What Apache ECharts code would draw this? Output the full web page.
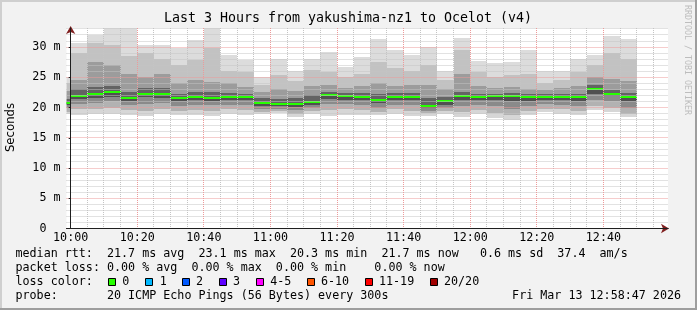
<!DOCTYPE html>
<html><head><meta charset="utf-8">
<script src="https://cdn.jsdelivr.net/npm/echarts@6/dist/echarts.min.js"></script>
<style>html,body{margin:0;padding:0;background:#f2f2f2;}#c{width:697px;height:310px;}</style>
</head><body><div id="c"></div>
<script>
// ---- data (values in ms) ----
const binStarts = ['09:55','10:00','10:05','10:10','10:15','10:20','10:25','10:30','10:35','10:40','10:45','10:50','10:55','11:00','11:05','11:10','11:15','11:20','11:25','11:30','11:35','11:40','11:45','11:50','11:55','12:00','12:05','12:10','12:15','12:20','12:25','12:30','12:35','12:40','12:45'];
const pingMax = [25.0,30.7,32.0,34.5,34.5,30.3,30.3,29.9,31.1,34.2,28.7,27.9,25.0,28.1,26.1,28.1,29.2,26.7,28.3,31.3,29.5,28.7,30.0,26.0,31.5,27.7,27.4,27.5,29.5,26.0,26.0,28.0,28.7,31.8,31.3];
const ping18 = [24.0,29.0,30.6,30.3,28.5,29.0,28.0,27.0,27.8,29.8,26.0,25.8,23.8,25.4,24.4,26.2,25.9,25.0,25.5,27.5,26.5,26.0,27.0,24.6,29.5,25.8,25.0,25.3,25.5,24.0,24.5,25.8,27.0,29.0,28.0];
const ping15 = [22.8,24.5,27.6,27.0,25.6,25.0,25.5,24.0,24.6,24.3,24.0,23.4,22.6,23.0,22.8,23.6,23.8,23.3,23.6,24.0,23.6,23.8,23.8,23.0,25.5,23.6,23.2,23.4,23.0,22.9,23.2,23.5,25.0,24.8,24.4];
const ping12 = [21.4,23.0,23.4,23.6,22.6,23.3,23.3,22.3,22.6,22.5,22.4,22.3,21.5,21.4,21.5,22.0,22.6,22.4,22.4,22.2,22.4,22.4,21.5,21.8,22.6,22.3,22.3,22.4,22.2,22.2,22.3,22.3,23.7,22.9,22.4];
const median = [20.8,21.9,22.2,22.5,21.6,22.2,22.2,21.5,21.8,21.6,21.7,21.7,20.7,20.6,20.6,20.9,22.0,21.9,21.8,21.2,21.8,21.8,20.3,21.0,21.95,21.7,21.9,21.9,21.8,21.8,21.8,21.8,23.1,22.3,21.8];
const ping9 = [20.4,21.4,21.6,21.8,21.1,21.7,21.5,21.0,21.3,21.1,21.2,21.2,20.3,20.2,20.1,20.4,21.4,21.3,21.3,20.7,21.3,21.2,19.9,20.5,21.3,21.2,21.3,21.0,21.0,21.3,21.3,21.0,22.3,21.9,21.0];
const ping6 = [19.9,20.6,20.8,21.0,20.4,20.6,20.7,20.3,20.5,20.4,20.5,20.4,19.8,19.8,19.6,19.9,20.6,20.6,20.5,20.0,20.5,20.4,19.5,20.0,20.3,20.4,20.2,19.8,20.2,20.6,20.5,20.2,21.3,21.0,20.0];
const ping3 = [19.3,19.7,19.8,20.0,19.6,19.5,19.8,19.5,19.6,19.5,19.7,19.6,19.3,19.4,19.0,19.4,19.6,19.7,19.6,19.3,19.7,19.5,19.1,19.5,19.2,19.6,19.1,18.8,19.4,19.8,19.7,19.5,20.3,20.0,19.0];
const pingMin = [18.9,18.8,18.9,19.0,18.8,18.6,18.9,18.7,18.8,18.6,18.9,18.8,18.9,19.1,18.5,19.0,18.6,18.8,18.8,18.8,18.9,18.6,18.6,19.0,18.4,18.9,18.3,18.0,18.7,19.2,19.0,18.8,19.6,19.3,18.5];

const titleText = 'Last 3 Hours from yakushima-nz1 to Ocelot (v4)';
const legendLines = [
  'median rtt:  21.7 ms avg  23.1 ms max  20.3 ms min  21.7 ms now   0.6 ms sd  37.4  am/s',
  'packet loss: 0.00 % avg  0.00 % max  0.00 % min    0.00 % now',
  'loss color:',
  'probe:       20 ICMP Echo Pings (56 Bytes) every 300s'
];
const lossLabels = ['0','1','2','3','4-5','6-10','11-19','20/20'];
const lossColors = ['#26ff00','#00b8ff','#0059ff','#5e00ff','#ff00ff','#ff5500','#ff0000','#a10000'];
const dateText = 'Fri Mar 13 12:58:47 2026';

// ---- helpers ----
const BIN = 5;
const MONO = 'DejaVu Sans Mono';
const FS = 11.7;
const XMIN = -1.25, XMAX = 179.4, YMAX = 33.15;
function toMin(s){ const p = s.split(':').map(Number); return p[0]*60 + p[1] - 600; }
function fmtTime(v){ const t = Math.round(600 + v); const h = Math.floor(t/60), m = t % 60; return (h<10?'0':'')+h+':'+(m<10?'0':'')+m; }
const starts = binStarts.map(toMin);

// grid line positions (axis units)
const xMinorGrid = [], xMajorGrid = [], yMinorGrid = [], yMajorGrid = [];
for (let m = 0; m < XMAX; m += 5) (m % 20 === 0 ? xMajorGrid : xMinorGrid).push(m);
for (let v = 1; v < YMAX; v += 1) (v % 5 === 0 ? yMajorGrid : yMinorGrid).push(v);

function clipTo(cs){ return {x:cs.x, y:cs.y, width:cs.width, height:cs.height}; }

function band(lo, hi, color){
  return {
    type:'custom', xAxisIndex:0, yAxisIndex:0, z:1, silent:true, animation:false,
    data: starts.map((t,i)=>[t, lo[i], hi[i]]),
    encode:{x:0, y:[1,2]},
    renderItem(params, api){
      const t = api.value(0), a = api.value(1), b = api.value(2);
      const p0 = api.coord([t, b]), p1 = api.coord([t + BIN, a]);
      const x0 = Math.round(p0[0]), x1 = Math.round(p1[0]);
      const y0 = Math.round(p0[1]), y1 = Math.round(p1[1]);
      const r = echarts.graphic.clipRectByRect({x:x0, y:y0, width:x1-x0, height:y1-y0}, clipTo(params.coordSys));
      return r ? {type:'rect', shape:r, style:{fill:color}} : null;
    }
  };
}
function medianSeries(vals, color){
  return {
    type:'custom', xAxisIndex:0, yAxisIndex:0, z:1.5, silent:true, animation:false,
    data: starts.map((t,i)=>[t, vals[i]]),
    encode:{x:0, y:1},
    renderItem(params, api){
      const t = api.value(0), v = api.value(1);
      const p0 = api.coord([t, v]), p1 = api.coord([t + BIN, v]);
      const x0 = Math.round(p0[0]), x1 = Math.round(p1[0]);
      const y = Math.round(p0[1]) - 1;
      const r = echarts.graphic.clipRectByRect({x:x0, y:y, width:x1-x0, height:2}, clipTo(params.coordSys));
      return r ? {type:'rect', shape:r, style:{fill:color}} : null;
    }
  };
}
function gridSeries(vals, vertical, color){
  return {
    type:'custom', xAxisIndex:0, yAxisIndex:0, z:3, silent:true, animation:false,
    data: vals.map(v => vertical ? [v, 0] : [0, v]),
    encode:{x:0, y:1},
    renderItem(params, api){
      const cs = params.coordSys;
      const p = api.coord([api.value(0), api.value(1)]);
      let shape;
      if (vertical) { const x = Math.floor(p[0]) + 0.5; shape = {x1:x, y1:cs.y, x2:x, y2:cs.y + cs.height}; }
      else { const y = Math.floor(p[1]) + 0.5; shape = {x1:cs.x, y1:y, x2:cs.x + cs.width, y2:y}; }
      return {type:'line', shape:shape, style:{stroke:color, lineWidth:1, lineDash:[1,1]}};
    }
  };
}

const minorColor = '#c4c4c4';
const majorColor = '#ec9a9a';

const graphic = [
  {type:'rect', shape:{x:0,y:0,width:697,height:2}, style:{fill:'#cfcfcf'}, silent:true},
  {type:'rect', shape:{x:0,y:0,width:2,height:310}, style:{fill:'#cfcfcf'}, silent:true},
  {type:'rect', shape:{x:0,y:308,width:697,height:2}, style:{fill:'#9e9e9e'}, silent:true},
  {type:'rect', shape:{x:695,y:0,width:2,height:310}, style:{fill:'#9e9e9e'}, silent:true},
  {type:'text', x:348, y:19, silent:true, style:{text:titleText, fontFamily:MONO, fontSize:13.3, fill:'#000', align:'center', verticalAlign:'middle'}},
  {type:'text', x:10.8, y:127.5, rotation:Math.PI/2, silent:true, style:{text:'Seconds', fontFamily:'DejaVu Sans', fontSize:11.7, fill:'#000', align:'center', verticalAlign:'middle'}},
  {type:'text', x:687.5, y:60, rotation:-Math.PI/2, silent:true, style:{text:'RRDTOOL / TOBI OETIKER', fontFamily:MONO, fontSize:8.3, fill:'#bdbdbd', align:'center', verticalAlign:'middle'}},
  {type:'text', x:681, y:296, silent:true, style:{text:dateText, fontFamily:MONO, fontSize:FS, fill:'#000', align:'right', verticalAlign:'middle'}}
];
const lineY = [254, 268, 282, 296];
legendLines.forEach((s,i)=>{
  graphic.push({type:'text', x:15.5, y:lineY[i], silent:true, style:{text:s, fontFamily:MONO, fontSize:FS, fill:'#000', align:'left', verticalAlign:'middle'}});
});
const boxX = [108.5, 145.5, 182.5, 219.5, 256.5, 307.5, 365.5, 430.5];
const lblX = [122.3, 159.7, 196, 233, 270.3, 321, 379, 444];
lossLabels.forEach((s,i)=>{
  graphic.push({type:'rect', shape:{x:boxX[i], y:278.5, width:7, height:7}, silent:true, style:{fill:lossColors[i], stroke:'#000', lineWidth:1}});
  graphic.push({type:'text', x:lblX[i], y:282, silent:true, style:{text:s, fontFamily:MONO, fontSize:FS, fill:'#000', align:'left', verticalAlign:'middle'}});
});

const chart = echarts.init(document.getElementById('c'), null, {renderer:'canvas'});
chart.setOption({
  animation:false,
  backgroundColor:'#f2f2f2',
  grid:{left:66.5, right:29, top:28, bottom:81.5, show:true, backgroundColor:'#ffffff', borderWidth:0},
  xAxis:[
    {type:'value', min:XMIN, max:XMAX, minInterval:20, maxInterval:20, position:'bottom', z:5,
     axisLine:{show:true, symbol:['none','arrow'], symbolSize:[7,8], symbolOffset:[0,1], lineStyle:{color:'#801f1f', width:1}},
     axisTick:{show:false}, axisLabel:{show:false}, splitLine:{show:false}},
    {type:'value', min:XMIN, max:XMAX, minInterval:20, maxInterval:20, position:'bottom', z:6,
     axisLine:{show:true, lineStyle:{color:'#1f1f1f', width:1}},
     axisTick:{show:false},
     axisLabel:{show:true, showMinLabel:false, showMaxLabel:false, formatter:fmtTime, fontFamily:MONO, fontSize:FS, color:'#000', margin:3},
     splitLine:{show:false}}
  ],
  yAxis:[
    {type:'value', min:0, max:YMAX, interval:5, position:'left', z:5,
     axisLine:{show:true, symbol:['none','arrow'], symbolSize:[7,8], symbolOffset:[0,2], lineStyle:{color:'#801f1f', width:1}},
     axisTick:{show:false}, axisLabel:{show:false}, splitLine:{show:false}},
    {type:'value', min:0, max:YMAX, interval:5, position:'left', z:6,
     axisLine:{show:true, lineStyle:{color:'#1f1f1f', width:1}},
     axisTick:{show:true, length:2, lineStyle:{color:'#1f1f1f'}},
     axisLabel:{show:true, showMaxLabel:false, formatter:(v)=> v===0 ? '0  ' : v+' m', fontFamily:MONO, fontSize:FS, color:'#000', margin:6},
     splitLine:{show:false}}
  ],
  series:[
    band(pingMin, ping3, '#d6d6d6'),
    band(ping3, ping6, '#b2b2b2'),
    band(ping6, ping9, '#8a8a8a'),
    band(ping9, median, '#505050'),
    band(median, ping12, '#636363'),
    band(ping12, ping15, '#9c9c9c'),
    band(ping15, ping18, '#c2c2c2'),
    band(ping18, pingMax, '#dcdcdc'),
    medianSeries(median, lossColors[0]),
    gridSeries(xMinorGrid, true, minorColor),
    gridSeries(yMinorGrid, false, minorColor),
    gridSeries(xMajorGrid, true, majorColor),
    gridSeries(yMajorGrid, false, majorColor)
  ],
  graphic: graphic
});
</script>
</body></html>
